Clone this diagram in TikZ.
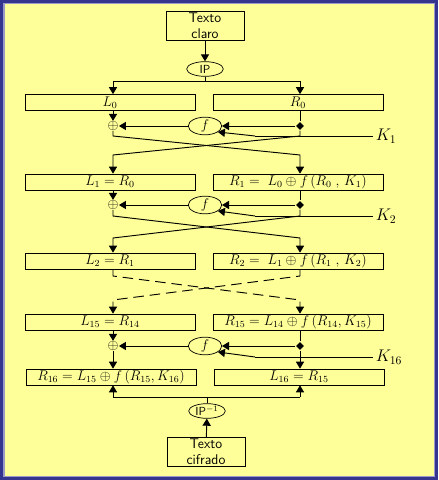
\documentclass[tikz,border=0pt]{standalone}
\usepackage{amsmath,amssymb}
\usepackage{tikz}
\usepackage{xcolor}
\usetikzlibrary{arrows.meta,positioning,shapes.geometric}

\definecolor{paper}{HTML}{FFFF99}
\definecolor{rim}{HTML}{35358F}
\definecolor{rimlight}{HTML}{9A9AC8}

\begin{document}
\begin{tikzpicture}[
      x=0.03cm, y=-0.03cm,
      >={Triangle[length=6pt,width=7pt]},
      font=\large,
      thick,
      half/.style={draw, semithick, minimum width=5.1cm, minimum height=0.48cm,
      inner sep=0pt},
      textbox/.style={draw, semithick, align=center, minimum width=2.34cm,
      minimum height=0.84cm, inner sep=1pt, font=\sffamily\large},
      perm/.style={draw, semithick, ellipse, minimum width=1.1cm,
      minimum height=0.44cm, inner xsep=0pt, inner ysep=0pt,
      font=\sffamily},
      fbox/.style={draw, semithick, ellipse, minimum width=1.0cm,
      minimum height=0.48cm, inner sep=0pt},
      xor/.style={inner sep=0pt, font=\large},
      dot/.style={diamond, fill, inner sep=0pt, minimum size=7pt},
      keylabel/.style={right, inner sep=2pt, font=\Large},
      flow/.style={->},
      wire/.style={-},
      gap/.style={dash pattern=on 9pt off 5pt}
    ]
    % frame
    \useasboundingbox (0,0) rectangle (438,480);
    \fill[rim] (0,0) rectangle (438,480);
    \fill[rimlight] (3,3) rectangle (435,477);
    \fill[paper] (4.5,4.5) rectangle (433.5,475.5);

    % input and initial permutation
    \node[textbox] (plain) at (205,26) {Texto\\claro};
    \node[perm] (ip) at (205,69) {IP};
    \coordinate (split) at (205,81);
    \node[half] (L0) at (110,102.5) {$L_0$};
    \node[half] (R0) at (298,102.5) {$R_0$};
    \coordinate (sl) at (113,81);
    \coordinate (sr) at (300,81);

    \draw[flow] (plain) -- (ip);
    \draw[wire] (ip) -- (split);
    \draw[wire] (sl) -- (sr);
    \draw[flow] (sl) -- (sl |- L0.north);
    \draw[flow] (sr) -- (sr |- R0.north);

    % round 1
    \node[xor] (x1) at (113,126) {$\oplus$};
    \node[fbox] (f1) at (205,126) {$f$};
    \node[dot] (d1) at (300,126) {};
    \coordinate (k1) at (373,136);
    \coordinate (k1b) at (255,136);
    \coordinate (c1) at (205,155);
    \node[keylabel] (k1lab) at (k1) {$K_1$};
    \node[half] (L1) at (110,182) {$L_1 = R_0$};
    \node[half] (R1) at (298,182) {$R_1 = \;L_0 \oplus f\,(R_0\;,\,K_1)$};

    \draw[flow] (x1 |- L0.south) -- (x1);
    \draw[wire] (d1 |- R0.south) -- (d1);
    \draw[flow] (d1) -- (f1);
    \draw[flow] (f1) -- (x1);
    \draw[wire] (k1) -- (k1b);
    \draw[flow] (k1b) -- (f1.-25);
    \draw[flow] (x1) -- (x1 |- k1) -- (d1 |- c1) -- (d1 |- R1.north);
    \draw[flow] (d1) -- (d1 |- k1) -- (x1 |- c1) -- (x1 |- L1.north);

    % round 2
    \node[xor] (x2) at (113,205) {$\oplus$};
    \node[fbox] (f2) at (205,205) {$f$};
    \node[dot] (d2) at (300,205) {};
    \coordinate (k2) at (373,216);
    \coordinate (k2b) at (255,216);
    \coordinate (c2) at (205,238);
    \node[keylabel] (k2lab) at (k2) {$K_2$};
    \node[half] (L2) at (110,261) {$L_2 = R_1$};
    \node[half] (R2) at (298,261) {$R_2 = \;L_1 \oplus f\,(R_1\;,\,K_2)$};

    \draw[flow] (x2 |- L1.south) -- (x2);
    \draw[wire] (d2 |- R1.south) -- (d2);
    \draw[flow] (d2) -- (f2);
    \draw[flow] (f2) -- (x2);
    \draw[wire] (k2) -- (k2b);
    \draw[flow] (k2b) -- (f2.-25);
    \draw[flow] (x2) -- (x2 |- k2) -- (d2 |- c2) -- (d2 |- R2.north);
    \draw[flow] (d2) -- (d2 |- k2) -- (x2 |- c2) -- (x2 |- L2.north);

    % rounds 3 to 15, left out
    \coordinate (g1) at (205,276);
    \coordinate (g2) at (205,300);
    \node[half] (L15) at (110,322) {$L_{15} = R_{14}$};
    \node[half] (R15) at (298,322) {$R_{15} = L_{14} \oplus f\,(R_{14}, K_{15})$};

    \draw[flow, gap] (x2 |- L2.south) -- (x2 |- g1) -- (d2 |- g2)
      -- (d2 |- R15.north);
    \draw[flow, gap] (d2 |- R2.south) -- (d2 |- g1) -- (x2 |- g2)
      -- (x2 |- L15.north);

    % round 16
    \node[xor] (x16) at (113,346) {$\oplus$};
    \node[fbox] (f16) at (205,346) {$f$};
    \node[dot] (d16) at (300,346) {};
    \coordinate (k16) at (373,357);
    \coordinate (k16b) at (255,357);
    \node[keylabel] (k16lab) at (k16) {$K_{16}$};
    \node[half] (R16) at (111,377) {$R_{16} = L_{15} \oplus f\,(R_{15}, K_{16})$};
    \node[half] (L16) at (299,377) {$L_{16} = R_{15}$};

    \draw[flow] (x16 |- L15.south) -- (x16);
    \draw[wire] (d16 |- R15.south) -- (d16);
    \draw[flow] (d16) -- (f16);
    \draw[flow] (f16) -- (x16);
    \draw[wire] (k16) -- (k16b);
    \draw[flow] (k16b) -- (f16.-25);
    \draw[flow] (x16) -- (x16 |- R16.north);
    \draw[flow] (d16) -- (d16 |- L16.north);

    % final permutation and output
    \node[perm] (ipinv) at (207,411) {IP$^{-1}$};
    \node[textbox] (cipher) at (206,452) {Texto\\cifrado};
    \coordinate (join) at (207,397);
    \coordinate (jl) at (113,397);
    \coordinate (jr) at (300,397);

    \draw[flow] (cipher) -- (ipinv);
    \draw[wire] (ipinv) -- (join);
    \draw[wire] (jl) -- (jr);
    \draw[flow] (jl) -- (jl |- R16.south);
    \draw[flow] (jr) -- (jr |- L16.south);
  \end{tikzpicture}
\end{document}
